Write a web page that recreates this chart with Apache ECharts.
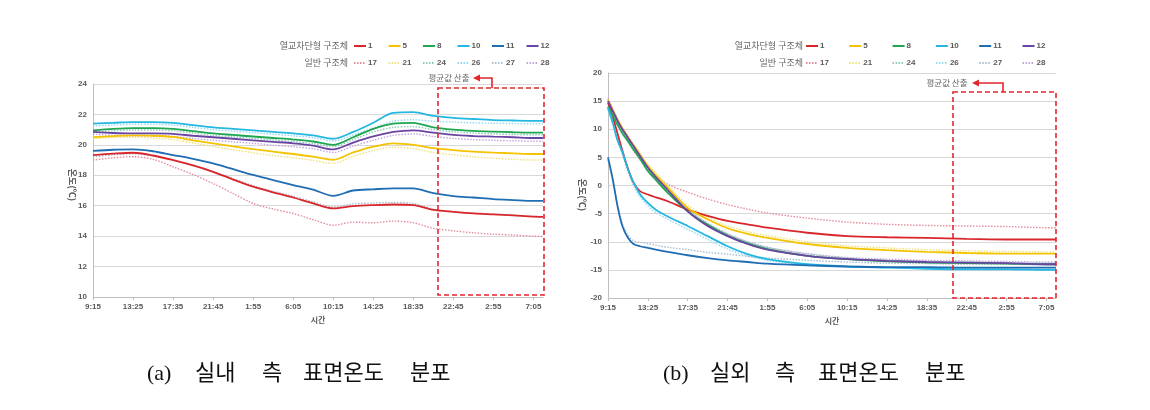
<!DOCTYPE html>
<html><head><meta charset="utf-8">
<script src="https://cdn.jsdelivr.net/npm/echarts@6/dist/echarts.min.js"></script>
<style>html,body{margin:0;padding:0;background:#fff}#c{width:1150px;height:410px}</style>
</head><body><div id="c"></div>
<script>
// ---------------- DATA ----------------
// x values: minutes elapsed since 9:15 on day 1
const xTickLabels = ['9:15','13:25','17:35','21:45','1:55','6:05','10:15','14:25','18:35','22:45','2:55','7:05'];
const leftYTicks = [10, 12, 14, 16, 18, 20, 22, 24];
const rightYTicks = [-20, -15, -10, -5, 0, 5, 10, 15, 20];

// (a) indoor side
const inTimes = [0,125,250,375,500,625,750,875,1000,1125,1250,1375,1500,1625,1750,1875,2000,2125,2250,2375,2500,2625,2750,2810];
const in_1  = [19.33,19.42,19.48,19.30,19.00,18.65,18.23,17.72,17.25,16.88,16.54,16.15,15.82,15.97,16.04,16.08,16.04,15.72,15.60,15.50,15.43,15.36,15.28,15.27];
const in_5  = [20.50,20.58,20.62,20.60,20.52,20.30,20.10,19.90,19.72,19.55,19.40,19.22,19.02,19.50,19.88,20.10,20.00,19.78,19.66,19.56,19.49,19.44,19.40,19.40];
const in_8  = [20.95,21.05,21.10,21.10,21.05,20.90,20.75,20.65,20.55,20.45,20.35,20.22,20.00,20.50,21.05,21.40,21.45,21.15,21.00,20.92,20.87,20.83,20.80,20.80];
const in_10 = [21.40,21.45,21.50,21.50,21.45,21.30,21.15,21.05,20.95,20.85,20.75,20.62,20.40,20.85,21.45,22.10,22.15,21.90,21.78,21.70,21.63,21.60,21.58,21.58];
const in_11 = [19.60,19.68,19.70,19.58,19.33,19.08,18.78,18.40,18.02,17.68,17.36,17.05,16.65,17.00,17.08,17.14,17.14,16.82,16.63,16.54,16.43,16.37,16.32,16.32];
const in_12 = [20.85,20.78,20.75,20.75,20.72,20.60,20.50,20.40,20.30,20.20,20.10,19.95,19.70,20.15,20.55,20.85,20.95,20.80,20.65,20.58,20.54,20.50,20.45,20.45];
const in_17 = [19.00,19.15,19.22,19.05,18.56,18.05,17.46,16.80,16.15,15.78,15.49,15.08,14.72,14.92,14.88,14.99,14.88,14.52,14.35,14.22,14.13,14.07,14.00,13.98];
const in_21 = [20.40,20.48,20.50,20.45,20.35,20.12,19.90,19.68,19.48,19.30,19.15,18.98,18.78,19.25,19.62,19.85,19.75,19.50,19.35,19.22,19.12,19.05,19.00,19.00];
const in_24 = [20.85,20.92,20.98,20.98,20.92,20.78,20.62,20.52,20.42,20.32,20.22,20.08,19.88,20.35,20.85,21.15,21.20,21.00,20.86,20.78,20.72,20.68,20.66,20.66];
const in_26 = [21.25,21.30,21.35,21.35,21.30,21.15,21.00,20.90,20.80,20.70,20.60,20.48,20.25,20.65,21.10,21.55,21.65,21.55,21.50,21.45,21.42,21.40,21.38,21.38];
const in_27 = [19.20,19.35,19.42,19.28,19.00,18.65,18.25,17.78,17.32,16.95,16.62,16.25,15.92,16.12,16.18,16.22,16.15,15.78,15.62,15.52,15.44,15.38,15.30,15.30];
const in_28 = [20.70,20.62,20.60,20.60,20.55,20.42,20.30,20.20,20.10,19.98,19.88,19.75,19.50,19.92,20.30,20.62,20.72,20.55,20.42,20.35,20.30,20.27,20.24,20.24];

// (b) outdoor side
const outTimes = [0,30,60,90,125,160,200,250,300,375,500,625,750,875,1000,1250,1500,1750,2000,2250,2500,2750,2810];
const out_1  = [14.7,12.2,9.2,6.2,3.0,0.5,-1.0,-1.6,-2.1,-2.8,-4.3,-5.4,-6.3,-6.9,-7.5,-8.4,-9.0,-9.2,-9.3,-9.5,-9.6,-9.6,-9.6];
const out_5  = [15.2,13.4,11.7,10.2,8.6,7.1,5.5,3.4,1.8,-0.4,-4.0,-6.0,-7.6,-8.6,-9.3,-10.4,-11.1,-11.5,-11.8,-12.0,-12.1,-12.1,-12.1];
const out_8  = [14.0,12.4,10.8,9.3,7.9,6.4,4.8,2.6,1.0,-1.3,-4.6,-7.0,-8.9,-10.3,-11.3,-12.5,-13.1,-13.5,-13.7,-13.8,-13.9,-14.0,-14.0];
const out_10 = [13.8,11.2,8.0,6.0,2.9,0.6,-1.5,-3.1,-4.3,-5.5,-7.2,-9.0,-10.8,-12.2,-13.1,-14.0,-14.4,-14.6,-14.8,-14.9,-14.9,-15.0,-15.0];
const out_11 = [5.0,1.1,-3.7,-7.2,-9.3,-10.4,-10.8,-11.1,-11.4,-11.8,-12.4,-12.9,-13.3,-13.6,-13.9,-14.2,-14.4,-14.5,-14.5,-14.6,-14.6,-14.6,-14.6];
const out_12 = [15.0,13.2,11.5,10.0,8.5,7.0,5.3,3.2,1.5,-0.8,-4.6,-7.2,-9.0,-10.4,-11.4,-12.5,-13.1,-13.4,-13.6,-13.7,-13.8,-14.0,-14.0];
const out_17 = [15.5,13.6,11.8,10.0,7.8,6.2,4.6,2.9,1.7,0.2,-1.2,-2.4,-3.4,-4.2,-4.9,-5.8,-6.5,-6.9,-7.1,-7.2,-7.3,-7.5,-7.5];
const out_21 = [15.0,13.3,11.7,10.2,8.7,7.3,5.8,3.8,2.2,0.0,-3.5,-5.6,-7.2,-8.2,-8.9,-10.0,-10.7,-11.1,-11.4,-11.6,-11.7,-11.8,-11.8];
const out_24 = [14.2,12.6,11.0,9.5,8.1,6.6,5.0,2.9,1.3,-1.0,-4.3,-6.7,-8.6,-10.0,-11.0,-12.2,-12.9,-13.3,-13.5,-13.6,-13.7,-13.8,-13.8];
const out_26 = [13.5,10.8,7.8,5.5,2.5,0.0,-2.0,-3.6,-4.8,-6.0,-7.8,-9.6,-11.3,-12.5,-13.3,-14.1,-14.4,-14.6,-14.7,-14.8,-14.8,-14.9,-14.9];
const out_27 = [4.5,0.8,-3.5,-6.8,-8.8,-9.8,-10.1,-10.3,-10.6,-11.0,-11.4,-11.9,-12.2,-12.6,-12.9,-13.3,-13.6,-13.8,-13.9,-14.0,-14.0,-14.1,-14.1];
const out_28 = [15.3,13.5,11.8,10.3,8.8,7.3,5.6,3.5,1.8,-0.5,-4.2,-6.8,-8.6,-10.0,-11.0,-12.1,-12.8,-13.1,-13.3,-13.4,-13.5,-13.6,-13.6];

const solidNames = ['1','5','8','10','11','12'];
const dottedNames = ['17','21','24','26','27','28'];
const indoor = {'1':in_1,'5':in_5,'8':in_8,'10':in_10,'11':in_11,'12':in_12,'17':in_17,'21':in_21,'24':in_24,'26':in_26,'27':in_27,'28':in_28};
const outdoor = {'1':out_1,'5':out_5,'8':out_8,'10':out_10,'11':out_11,'12':out_12,'17':out_17,'21':out_21,'24':out_24,'26':out_26,'27':out_27,'28':out_28};

// ---------------- STYLE ----------------
const colors = {'1':'#d9262b','5':'#f4c300','8':'#1ea650','10':'#24b7e2','11':'#1f6db3','12':'#6a44a2',
                '17':'#e48c9c','21':'#efe27a','24':'#8ccab8','26':'#94d9ef','27':'#a9bdd2','28':'#c3a5dc'};
const FONT = 'Liberation Sans, Arial, sans-serif';
const TXT = '#595959';

function buildSeries(times, table, axis) {
  const out = [];
  dottedNames.forEach(n => out.push({
    type:'line', name:n, xAxisIndex:axis, yAxisIndex:axis, symbol:'none', smooth:0.3,
    data: times.map((t,i)=>[t, table[n][i]]),
    lineStyle:{color:colors[n], width:1.4, type:[1.5,1.5]}, itemStyle:{color:colors[n]},
    silent:true, z:2
  }));
  solidNames.forEach(n => out.push({
    type:'line', name:n, xAxisIndex:axis, yAxisIndex:axis, symbol:'none', smooth:0.3,
    data: times.map((t,i)=>[t, table[n][i]]),
    lineStyle:{color:colors[n], width:1.8, type:'solid'}, itemStyle:{color:colors[n]},
    silent:true, z:3
  }));
  return out;
}

function xAxis(gridIndex) {
  return {
    type:'value', gridIndex, min:0, max:2810, interval:250,
    axisLine:{show:true, onZero:false, lineStyle:{color:'#bfbfbf', width:1}},
    axisTick:{show:true, length:3, lineStyle:{color:'#bfbfbf'}},
    splitLine:{show:false},
    axisLabel:{show:true, showMaxLabel:false, margin:6, fontSize:8, fontWeight:'bold', color:TXT, fontFamily:FONT,
      formatter: v => { const k = Math.round(v/250); return (Math.abs(v-k*250)<1 && xTickLabels[k]) ? xTickLabels[k] : ''; }},
    name:'시간', nameLocation:'middle', nameGap:19,
    nameTextStyle:{fontSize:8, fontWeight:'bold', color:TXT, fontFamily:'Noto Sans CJK KR'}
  };
}
function yAxis(gridIndex, ticks) {
  return {
    type:'value', gridIndex, min:ticks[0], max:ticks[ticks.length-1], interval:ticks[1]-ticks[0],
    axisLine:{show:true, lineStyle:{color:'#bfbfbf', width:1}},
    axisTick:{show:false},
    splitLine:{show:true, lineStyle:{color:'#d9d9d9', width:1}},
    axisLabel:{margin:6, fontSize:8, fontWeight:'bold', color:TXT, fontFamily:FONT}
  };
}
// one legend component per entry so the entries sit on a fixed pitch
function legendRow(names, left, top, pitch) {
  return names.map((n, i) => ({
    data:[n], left:left + i*pitch, top, orient:'horizontal', padding:0, itemGap:0, itemWidth:12, itemHeight:8,
    selectedMode:false,
    itemStyle:{opacity:0},
    textStyle:{fontSize:8, fontWeight:'bold', color:TXT, fontFamily:FONT, padding:[0,0,0,-3]}
  }));
}
function txt(x, y, s, size, opts) {
  return Object.assign({type:'text', x, y, silent:true, style:Object.assign({text:s, fontSize:size, fill:TXT,
    fontFamily:'Noto Sans CJK KR', align:'center', verticalAlign:'middle'}, (opts&&opts.style)||{})},
    opts&&opts.rotation!==undefined?{rotation:opts.rotation}:{});
}
const RED = '#e3262b';
function annot(rx1, ry1, rx2, ry2, tx, ty, ax1, ax2) {
  return [
    {type:'rect', silent:true, shape:{x:rx1, y:ry1, width:rx2-rx1, height:ry2-ry1},
      style:{fill:'none', stroke:RED, lineWidth:1.6, lineDash:[5,3]}, z:10},
    {type:'polyline', silent:true, shape:{points:[[ax2, ry1], [ax2, ty], [ax1+4, ty]]},
      style:{fill:'none', stroke:RED, lineWidth:1.6}, z:10},
    {type:'polygon', silent:true, shape:{points:[[ax1-1, ty], [ax1+6, ty-3.5], [ax1+6, ty+3.5]]},
      style:{fill:RED}, z:10},
    txt(tx, ty, '평균값 산출', 8.5, {style:{fill:'#666'}})
  ];
}
const CAP = {fill:'#111', align:'left', fontFamily:'Liberation Serif, Noto Sans CJK KR'};
function caption(words, y) {
  return words.map(([x, s]) => txt(x, y, s, 22, {style:CAP}));
}

const chart = echarts.init(document.getElementById('c'), null, {renderer:'canvas'});
chart.setOption({
  animation:false,
  backgroundColor:'#fff',
  grid:[
    {left:93, top:84, width:450, height:213},
    {left:608, top:73, width:448, height:225}
  ],
  xAxis:[xAxis(0), xAxis(1)],
  yAxis:[yAxis(0, leftYTicks), yAxis(1, rightYTicks)],
  legend:[].concat(
    legendRow(solidNames, 353, 42, 34.5), legendRow(dottedNames, 353, 59, 34.5),
    legendRow(solidNames, 805, 42, 43.3), legendRow(dottedNames, 805, 59, 43.3)
  ),
  series:[].concat(buildSeries(inTimes, indoor, 0), buildSeries(outTimes, outdoor, 1)),
  graphic:[].concat(
    [
      txt(348, 46, '열교차단형 구조체', 9, {style:{align:'right', fill:'#666'}}),
      txt(348, 63, '일반 구조체', 9, {style:{align:'right', fill:'#666'}}),
      txt(803, 46, '열교차단형 구조체', 9, {style:{align:'right', fill:'#666'}}),
      txt(803, 63, '일반 구조체', 9, {style:{align:'right', fill:'#666'}}),
      txt(72, 185, '온도(℃)', 9, {rotation:-Math.PI/2, style:{fontWeight:'bold'}}),
      txt(582, 195, '온도(℃)', 9, {rotation:-Math.PI/2, style:{fontWeight:'bold'}})
    ],
    annot(438, 88, 544, 295, 449, 78, 474, 492),
    annot(953, 92, 1056, 298, 947, 83, 973, 1003),
    caption([[147,'(a)'],[195,'실내'],[262,'측'],[303,'표면온도'],[410,'분포']], 374),
    caption([[663,'(b)'],[710,'실외'],[775,'측'],[818,'표면온도'],[925,'분포']], 374)
  )
});
</script></body></html>
